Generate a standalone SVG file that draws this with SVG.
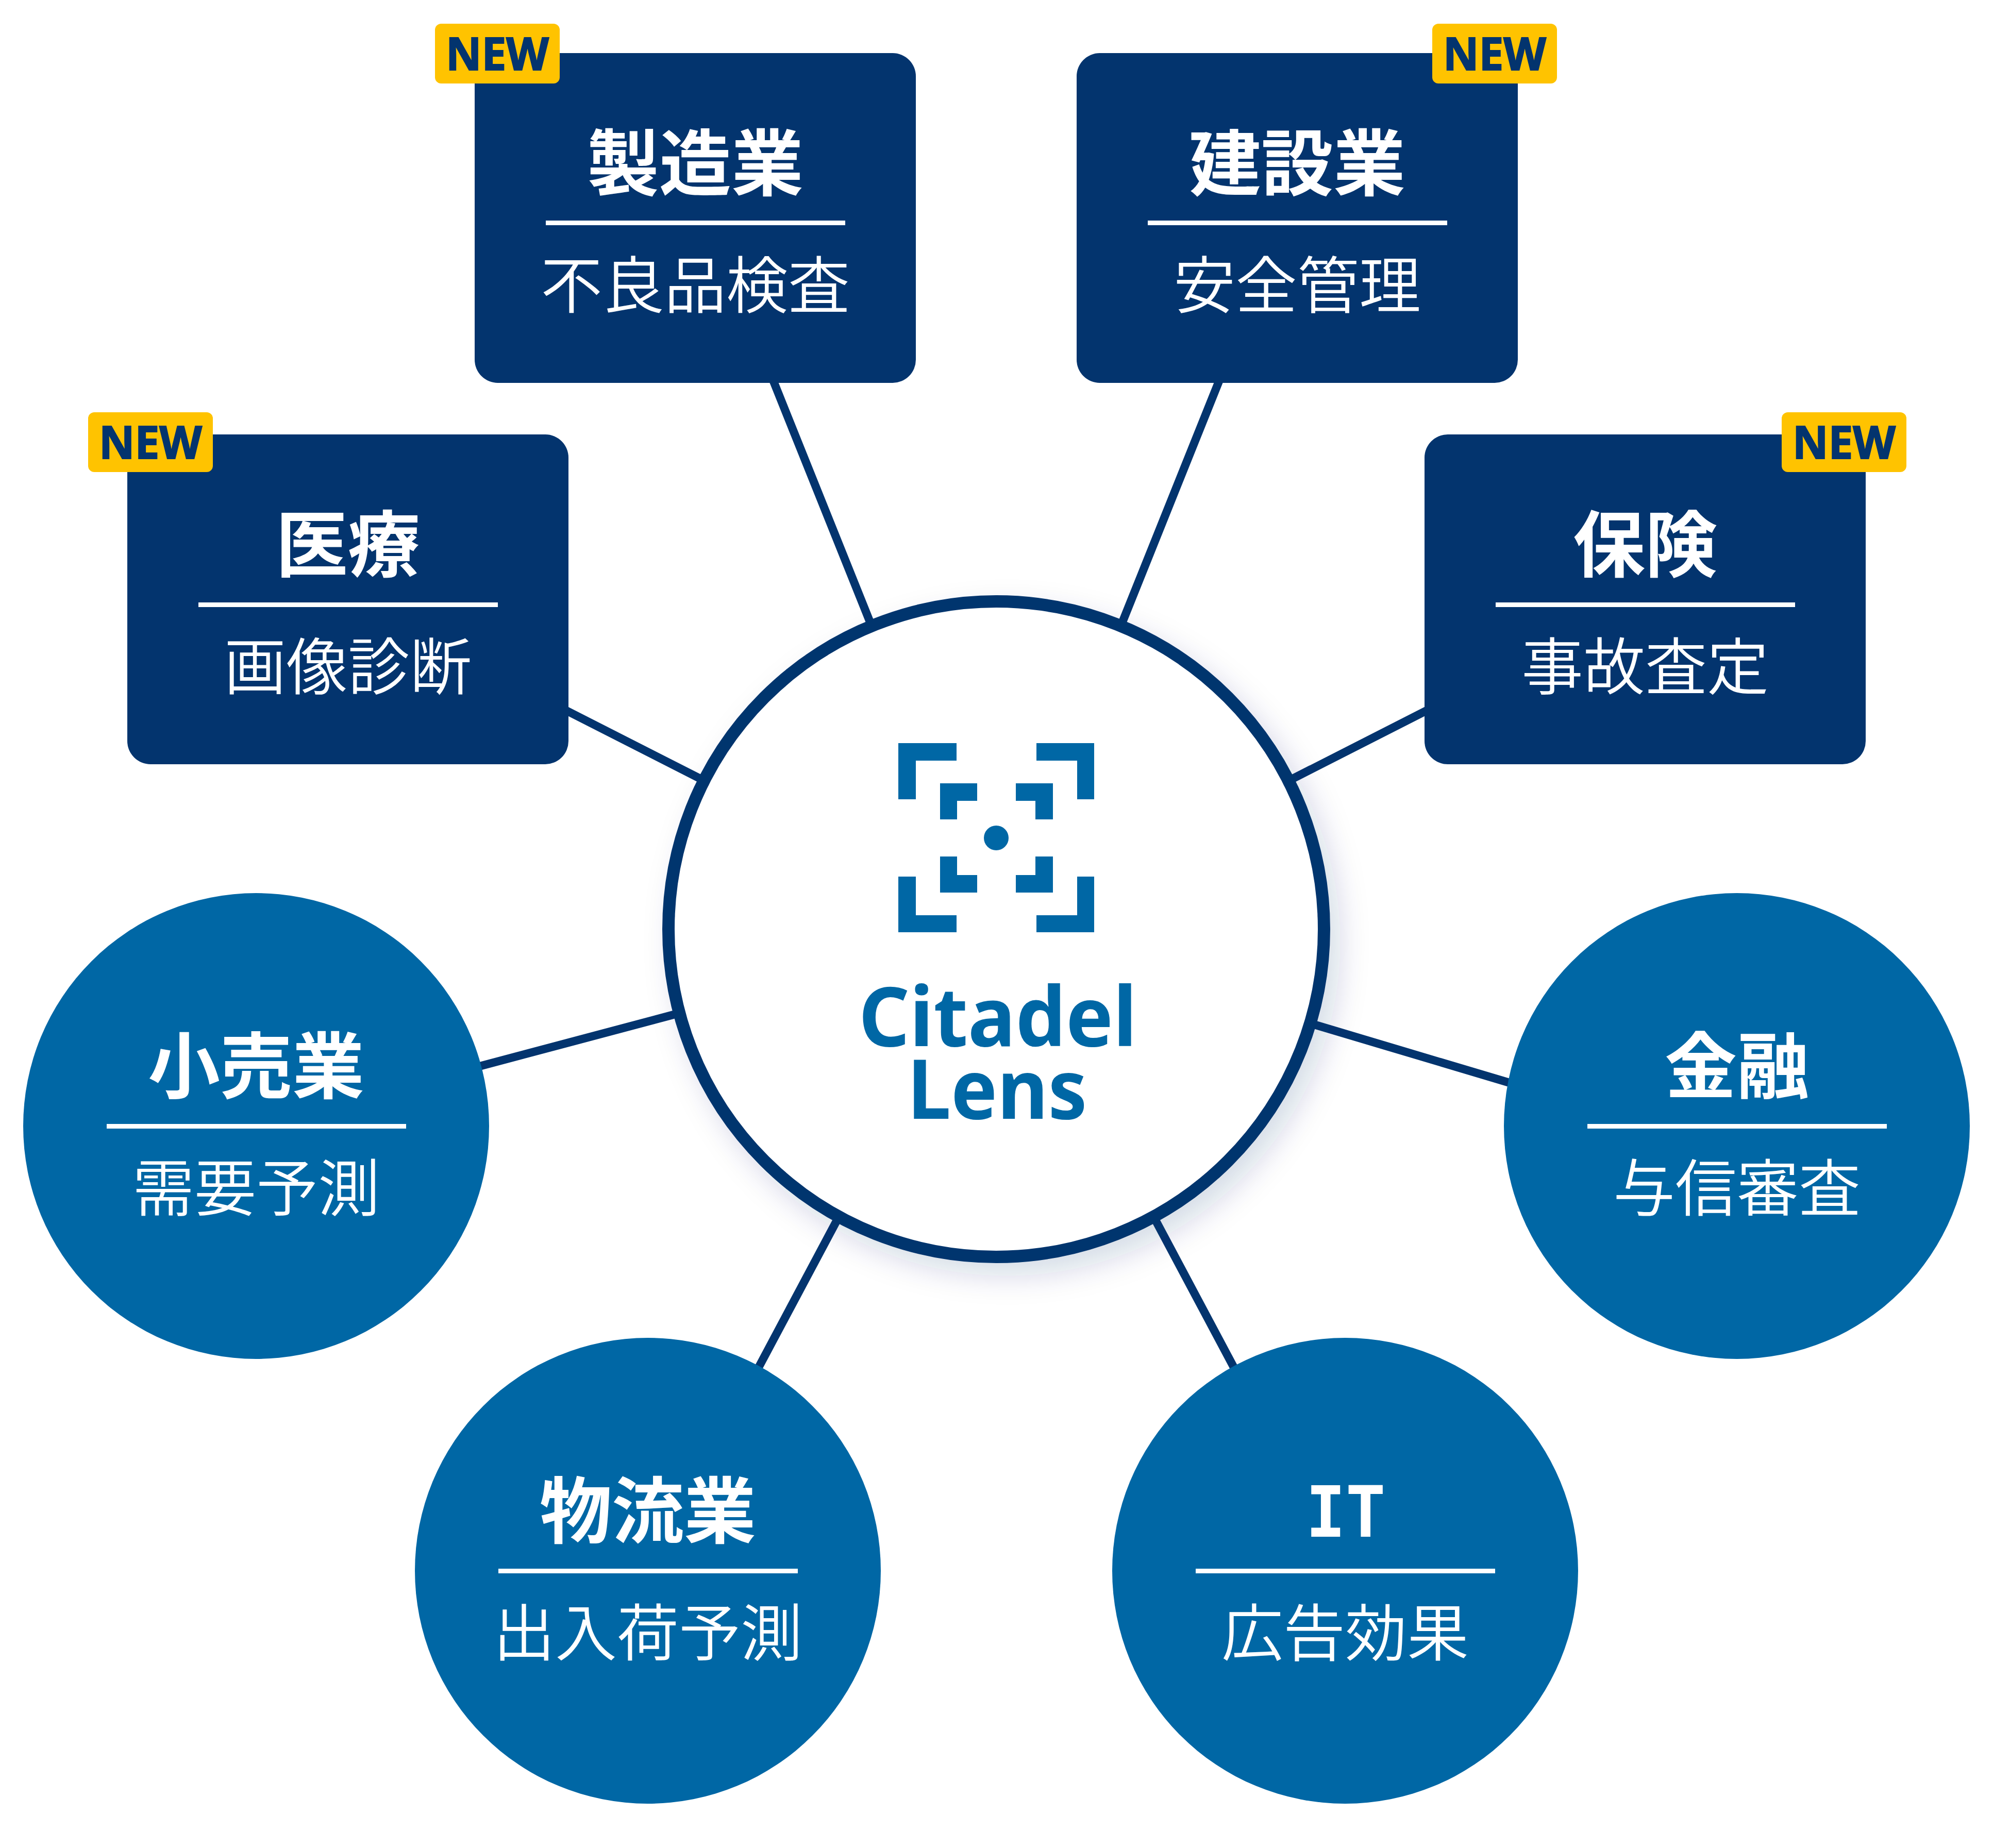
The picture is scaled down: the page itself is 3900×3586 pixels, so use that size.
<svg xmlns="http://www.w3.org/2000/svg" width="3900" height="3586" viewBox="0 0 3900 3586">
<style>
.box{fill:#03346E}
.disc{fill:#0067A5}
.badge{fill:#FFC300}
.conn{stroke:#03346E;stroke-width:16;fill:none}
.rule{fill:#fff}
.t{fill:#fff;font-family:"Noto Sans CJK JP",sans-serif;font-weight:600;font-size:140px;text-anchor:middle}
.s{fill:#fff;font-family:"Noto Sans CJK JP",sans-serif;font-weight:350;font-size:120px;text-anchor:middle}
.n{fill:#03346E;stroke:#03346E;stroke-width:2;font-family:"Noto Sans",sans-serif;font-weight:700;font-size:88px;text-anchor:middle}
.m{font-family:"DejaVu Sans Mono",monospace;font-weight:700;text-anchor:middle}
.w{font-family:"Noto Sans",sans-serif;font-weight:700;font-size:160px;text-anchor:middle}
.logo{fill:#0067A5}
</style>
<defs>
<filter id="sh" x="-20%" y="-20%" width="140%" height="140%"><feDropShadow dx="20" dy="25" stdDeviation="28" flood-color="#03346E" flood-opacity="0.16"/></filter>
</defs>
<rect width="3900" height="3586" fill="#fff"/>
<g id="connectors">
<line class="conn" x1="1462" y1="643" x2="1727" y2="1304"/>
<line class="conn" x1="2404" y1="643" x2="2139" y2="1304"/>
<line class="conn" x1="1003" y1="1330" x2="1457" y2="1561"/>
<line class="conn" x1="2864" y1="1330" x2="2410" y2="1561"/>
<line class="conn" x1="833" y1="2095" x2="1408" y2="1942"/>
<line class="conn" x1="3026" y1="2130" x2="2452" y2="1959"/>
<line class="conn" x1="1420" y1="2751" x2="1676" y2="2270"/>
<line class="conn" x1="2446" y1="2751" x2="2190" y2="2270"/>
</g>
<g id="hub">
<circle cx="1933" cy="1803" r="636" fill="#fff" stroke="#03346E" stroke-width="24" filter="url(#sh)"/>
<g class="logo">
<path d="M1743 1442H1856V1476H1777V1551H1743Z"/>
<path d="M2123 1442H2011V1476H2090V1551H2123Z"/>
<path d="M1743 1809H1856V1776H1777V1701H1743Z"/>
<path d="M2123 1809H2011V1776H2090V1701H2123Z"/>
<path d="M1824 1520H1896V1554H1857V1590H1824Z"/>
<path d="M2043 1520H1971V1554H2009V1590H2043Z"/>
<path d="M1824 1732H1896V1698H1857V1662H1824Z"/>
<path d="M2043 1732H1971V1698H2009V1662H2043Z"/>
<circle cx="1933" cy="1626" r="24"/>
</g>
<text class="w logo" x="1936" y="2030" textLength="540" lengthAdjust="spacingAndGlyphs">Citadel</text>
<text class="w logo" x="1935" y="2171" textLength="349" lengthAdjust="spacingAndGlyphs">Lens</text>
</g>
<g id="node-seizo">
<rect class="box" x="921" y="103" width="856" height="640" rx="45"/>
<rect class="rule" x="1059" y="428" width="581" height="9"/>
<text class="t" x="1349" y="368">製造業</text>
<text class="s" x="1349" y="598">不良品検査</text>
<rect class="badge" x="844" y="46" width="242" height="116" rx="12"/>
<text class="n" x="965" y="136" textLength="200" lengthAdjust="spacingAndGlyphs">NEW</text>
</g>
<g id="node-kensetsu">
<rect class="box" x="2089" y="103" width="856" height="640" rx="45"/>
<rect class="rule" x="2227" y="428" width="581" height="9"/>
<text class="t" x="2517" y="368">建設業</text>
<text class="s" x="2517" y="598">安全管理</text>
<rect class="badge" x="2779" y="46" width="242" height="116" rx="12"/>
<text class="n" x="2900" y="136" textLength="200" lengthAdjust="spacingAndGlyphs">NEW</text>
</g>
<g id="node-iryo">
<rect class="box" x="247" y="843" width="856" height="640" rx="45"/>
<rect class="rule" x="385" y="1169" width="581" height="9"/>
<text class="t" x="675" y="1108">医療</text>
<text class="s" x="675" y="1338">画像診断</text>
<rect class="badge" x="171" y="800" width="242" height="116" rx="12"/>
<text class="n" x="292" y="890" textLength="200" lengthAdjust="spacingAndGlyphs">NEW</text>
</g>
<g id="node-hoken">
<rect class="box" x="2764" y="843" width="856" height="640" rx="45"/>
<rect class="rule" x="2902" y="1169" width="581" height="9"/>
<text class="t" x="3192" y="1108">保険</text>
<text class="s" x="3192" y="1338">事故査定</text>
<rect class="badge" x="3457" y="800" width="242" height="116" rx="12"/>
<text class="n" x="3578" y="890" textLength="200" lengthAdjust="spacingAndGlyphs">NEW</text>
</g>
<g id="node-kouri">
<circle class="disc" cx="497" cy="2185" r="452"/>
<rect class="rule" x="207" y="2181" width="581" height="9"/>
<text class="t" x="497" y="2120">小売業</text>
<text class="s" x="497" y="2350">需要予測</text>
</g>
<g id="node-kinyu">
<circle class="disc" cx="3370" cy="2185" r="452"/>
<rect class="rule" x="3080" y="2181" width="581" height="9"/>
<text class="t" x="3370" y="2120">金融</text>
<text class="s" x="3370" y="2350">与信審査</text>
</g>
<g id="node-butsuryu">
<circle class="disc" cx="1257" cy="3048" r="452"/>
<rect class="rule" x="967" y="3044" width="581" height="9"/>
<text class="t" x="1257" y="2983">物流業</text>
<text class="s" x="1257" y="3213">出入荷予測</text>
</g>
<g id="node-it">
<circle class="disc" cx="2610" cy="3048" r="452"/>
<rect class="rule" x="2320" y="3044" width="581" height="9"/>
<text class="m" fill="#fff" x="2611" y="2982" font-size="137" textLength="155" lengthAdjust="spacingAndGlyphs">IT</text>
<text class="s" x="2610" y="3213">広告効果</text>
</g>
</svg>
